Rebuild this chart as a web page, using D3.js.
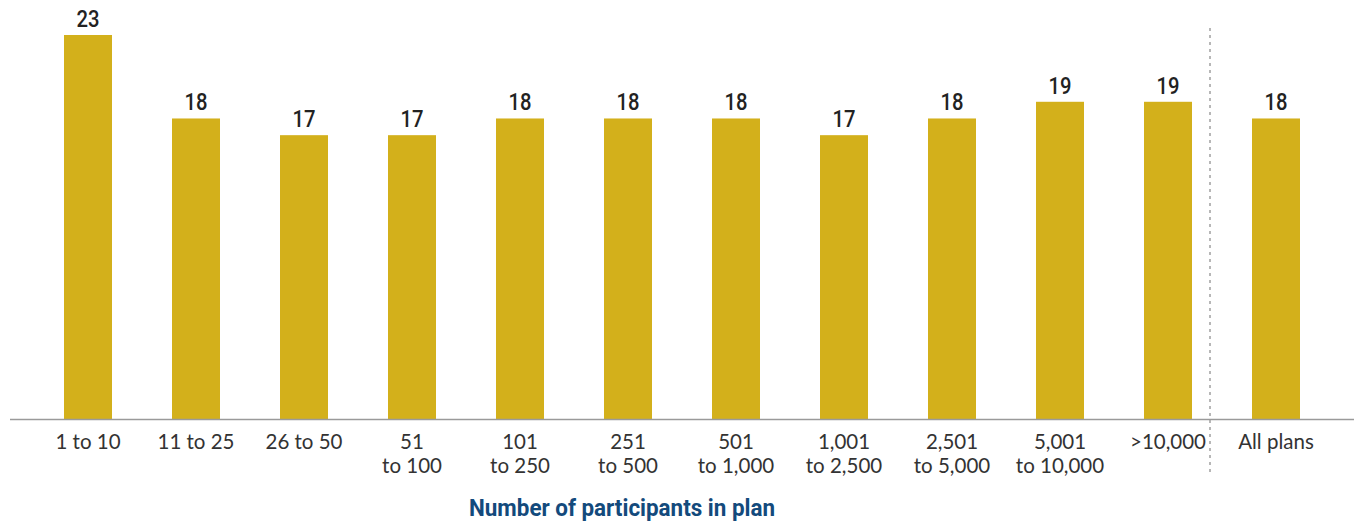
<!DOCTYPE html>
<html><head><meta charset="utf-8">
<script src="https://cdn.jsdelivr.net/npm/d3@7"></script>
<style>
html,body{margin:0;padding:0;background:#fff;}
svg{display:block;}
</style></head>
<body>
<svg id="chart" width="1354" height="524"></svg>
<script>
const categories = [["1 to 10"],["11 to 25"],["26 to 50"],["51","to 100"],["101","to 250"],["251","to 500"],["501","to 1,000"],["1,001","to 2,500"],["2,501","to 5,000"],["5,001","to 10,000"],[">10,000"],["All plans"]];
const keys = categories.map(c => c.join(" "));
const values = [23,18,17,17,18,18,18,17,18,19,19,18];
const axisTitle = "Number of participants in plan";

const svg = d3.select("#chart");
const x = d3.scaleBand().domain(keys).range([34,1330]).paddingInner(0.5556).paddingOuter(0.2778);
const y = d3.scaleLinear().domain([0,23]).range([419,35]);
const barColor = "#D3B01B";
const boldFont = "Roboto, 'Noto Sans', sans-serif";

function condense(sel, k){
  sel.each(function(){
    const w = this.getComputedTextLength();
    d3.select(this).attr("textLength", w*k).attr("lengthAdjust","spacingAndGlyphs");
  });
}

svg.selectAll("rect.bar").data(values).join("rect")
  .attr("class","bar")
  .attr("x",(d,i)=>x(keys[i]))
  .attr("width",x.bandwidth())
  .attr("y",d=>y(d))
  .attr("height",d=>y(0)-y(d))
  .attr("fill",barColor);

// axis line
svg.append("line").attr("x1",10).attr("x2",1354).attr("y1",y(0)+0.5).attr("y2",y(0)+0.5)
  .attr("stroke","#9a9a9a").attr("stroke-width",1.5);

// divider
const divX = x(keys[11]) - 42;
svg.append("line").attr("x1",divX).attr("x2",divX).attr("y1",28).attr("y2",472)
  .attr("stroke","#a0a0a0").attr("stroke-width",1.5).attr("stroke-dasharray","3,4");

// value labels
const vals = svg.selectAll("text.val").data(values).join("text")
  .attr("class","val")
  .attr("x",(d,i)=>x(keys[i])+x.bandwidth()/2)
  .attr("y",d=>y(d)-8)
  .attr("text-anchor","middle")
  .attr("font-family",boldFont)
  .attr("font-weight",500)
  .attr("font-size",23)
  .attr("fill","#222")
  .text(d=>d);
condense(vals, 0.88);

// category labels
const cat = svg.selectAll("text.cat").data(categories).join("text")
  .attr("class","cat")
  .attr("x",(d,i)=>x(keys[i])+x.bandwidth()/2)
  .attr("y",449)
  .attr("text-anchor","middle")
  .attr("font-family","Lato, 'Open Sans', sans-serif")
  .attr("font-size",20.5)
  .attr("fill","#333");
cat.each(function(d,i){
  const t = d3.select(this);
  d.forEach((line,j)=>{
    t.append("tspan").attr("x",x(keys[i])+x.bandwidth()/2).attr("dy", j===0?0:24).text(line);
  });
});

// axis title
const title = svg.append("text")
  .attr("x",(x(keys[0]) + x(keys[10]) + x.bandwidth())/2 - 6)
  .attr("y",516)
  .attr("text-anchor","middle")
  .attr("font-family",boldFont)
  .attr("font-weight",700)
  .attr("font-size",23)
  .attr("fill","#134a7c")
  .text(axisTitle);
title.attr("textLength",306).attr("lengthAdjust","spacingAndGlyphs");
</script>
</body></html>
